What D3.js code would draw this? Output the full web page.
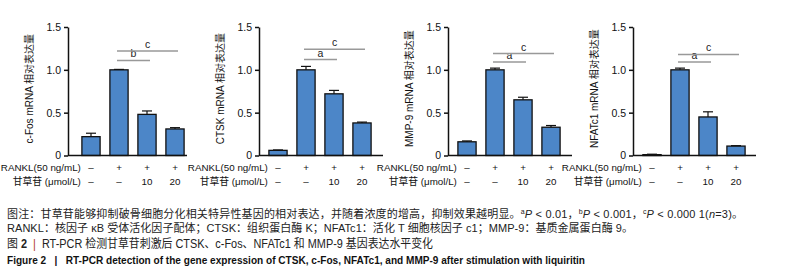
<!DOCTYPE html>
<html lang="zh">
<head>
<meta charset="UTF-8">
<title>RT-PCR liquiritin</title>
<script src="https://d3js.org/d3.v7.min.js"></script>
<style>
  body { margin: 0; background: #fff; }
  text { font-family: "Liberation Sans", "Noto Sans CJK SC", sans-serif; white-space: pre; }
</style>
</head>
<body>
<svg id="chart" width="793" height="277"></svg>
<script>
const genes = ["c-Fos", "CTSK", "MMP-9", "NFATc1"];
const groups = ["ctrl", "rankl", "liq10", "liq20"];
const ranklRow = ["–", "+", "+", "+"];
const liqRow = ["–", "–", "10", "20"];
const means = [
  [0.22, 1.00, 0.48, 0.31],
  [0.06, 1.00, 0.72, 0.38],
  [0.16, 1.00, 0.65, 0.33],
  [0.01, 1.00, 0.45, 0.11]
];
const errs = [
  [0.04, 0.005, 0.04, 0.015],
  [0.005, 0.04, 0.04, 0.01],
  [0.01, 0.02, 0.03, 0.02],
  [0.005, 0.02, 0.06, 0.005]
];
// significance letters: [vs 10, vs 20]
const sigLetters = [["b", "c"], ["a", "c"], ["a", "c"], ["a", "c"]];
const sigLevels = [[1.11, 1.22], [1.12, 1.24], [1.09, 1.19], [1.09, 1.18]];
const yTicks = [0, 0.5, 1.0, 1.5];
const yTickLabels = ["0", "0.5", "1.0", "1.5"];

const svg = d3.select("#chart");
const axisX = [68, 259, 448, 633];
const axisEnd = [187, 383, 572, 756];
const bandStart = [77, 264, 453, 638];
const barColor = "#4c86c8";

const y = d3.scaleLinear().domain([0, 1.5]).range([155.5, 27]);

genes.forEach((gene, i) => {
  const g = svg.append("g");
  const x = d3.scaleBand()
    .domain(groups)
    .range([bandStart[i], bandStart[i] + 112])
    .paddingInner(0.35)
    .paddingOuter(0.175);
  const bw = x.bandwidth();

  // bars
  g.selectAll("rect.bar")
    .data(means[i])
    .enter().append("rect")
      .attr("class", "bar")
      .attr("x", (d, j) => x(groups[j]))
      .attr("y", d => y(d))
      .attr("width", bw)
      .attr("height", d => y(0) - y(d))
      .attr("fill", barColor)
      .attr("stroke", "#111")
      .attr("stroke-width", 1.3);

  // error bars
  const eb = g.selectAll("g.err")
    .data(means[i].map((m, j) => ({m, e: errs[i][j], k: groups[j]})))
    .enter().append("g").attr("class", "err");
  eb.append("line")
    .attr("x1", d => x(d.k) + bw / 2).attr("x2", d => x(d.k) + bw / 2)
    .attr("y1", d => y(d.m)).attr("y2", d => y(d.m + d.e))
    .attr("stroke", "#111").attr("stroke-width", 1.2);
  eb.append("line")
    .attr("x1", d => x(d.k) + bw / 2 - 5).attr("x2", d => x(d.k) + bw / 2 + 5)
    .attr("y1", d => y(d.m + d.e)).attr("y2", d => y(d.m + d.e))
    .attr("stroke", "#111").attr("stroke-width", 1.2);

  // y axis
  const ya = g.append("g")
    .attr("transform", `translate(${axisX[i]},0)`)
    .call(d3.axisLeft(y).tickValues(yTicks).tickFormat((d, k) => yTickLabels[k]).tickSize(4).tickSizeOuter(0));
  ya.select(".domain").attr("stroke", "#111").attr("stroke-width", 1.5);
  ya.selectAll(".tick line").attr("stroke", "#111").attr("stroke-width", 1.5);
  ya.selectAll(".tick text").attr("font-size", 10.5).attr("fill", "#111")
    .attr("font-family", "Liberation Sans, sans-serif");

  // x axis line
  g.append("line")
    .attr("x1", axisX[i]).attr("x2", axisEnd[i])
    .attr("y1", y(0)).attr("y2", y(0))
    .attr("stroke", "#111").attr("stroke-width", 1.5);

  // y label
  g.append("text")
    .attr("transform", `translate(${axisX[i] - 35},${y(0.78)}) rotate(-90)`)
    .attr("text-anchor", "middle")
    .attr("font-size", 10)
    .attr("fill", "#111")
    .text(`${gene} mRNA 相对表达量`);

  // significance brackets
  const cx = k => x(groups[k]) + bw / 2;
  [2, 3].forEach((k, s) => {
    const x1 = cx(1) - 2, x2 = cx(k) + 3;
    const yy = y(sigLevels[i][s]);
    g.append("line")
      .attr("x1", x1).attr("x2", x2).attr("y1", yy).attr("y2", yy)
      .attr("stroke", "#999").attr("stroke-width", 1.5);
    g.append("text")
      .attr("x", (x1 + x2) / 2).attr("y", yy - 3)
      .attr("text-anchor", "middle")
      .attr("font-size", 10.5).attr("fill", "#222")
      .text(sigLetters[i][s]);
  });

  // condition rows
  const rowY = [170.5, 185];
  const rowLabels = ["RANKL(50 ng/mL)", "甘草苷 (μmol/L)"];
  [ranklRow, liqRow].forEach((row, r) => {
    g.append("text")
      .attr("x", x(groups[0]) - 1).attr("y", rowY[r])
      .attr("text-anchor", "end")
      .attr("font-size", 9.8).attr("fill", "#111")
      .text(rowLabels[r]);
    g.selectAll(null)
      .data(row)
      .enter().append("text")
        .attr("x", (d, j) => x(groups[j]) + bw / 2)
        .attr("y", rowY[r])
        .attr("text-anchor", "middle")
        .attr("font-size", 9.8).attr("fill", "#111")
        .text(d => d);
  });
});

// caption
const cap = svg.append("g").attr("fill", "#222");
const l1 = cap.append("text").attr("x", 7).attr("y", 218).attr("font-size", 11)
  .attr("textLength", 736).attr("lengthAdjust", "spacing");
l1.append("tspan").text("图注：甘草苷能够抑制破骨细胞分化相关特异性基因的相对表达，并随着浓度的增高，抑制效果越明显。");
[["a", "P", " < 0.01，"], ["b", "P", " < 0.001，"], ["c", "P", " < 0.000 1("]].forEach(p => {
  l1.append("tspan").attr("font-size", 7).attr("dy", -4).text(p[0]);
  l1.append("tspan").attr("font-style", "italic").attr("dy", 4).text(p[1]);
  l1.append("tspan").text(p[2]);
});
l1.append("tspan").attr("font-style", "italic").text("n");
l1.append("tspan").text("=3)。");

cap.append("text").attr("x", 7).attr("y", 232).attr("font-size", 11)
  .attr("textLength", 626).attr("lengthAdjust", "spacing")
  .text("RANKL：核因子 κB 受体活化因子配体；CTSK：组织蛋白酶 K；NFATc1：活化 T 细胞核因子 c1；MMP-9：基质金属蛋白酶 9。");

const l3 = cap.append("text").attr("x", 7).attr("y", 248).attr("font-size", 12)
  .attr("textLength", 426).attr("lengthAdjust", "spacingAndGlyphs");
l3.append("tspan").text("图 ");
l3.append("tspan").attr("font-weight", "bold").text("2  ");
l3.append("tspan").attr("fill", "#b03a2e").text("|  ");
l3.append("tspan").text("RT-PCR 检测甘草苷刺激后 CTSK、c-Fos、NFATc1 和 MMP-9 基因表达水平变化");

cap.append("text").attr("x", 7).attr("y", 264).attr("font-size", 11)
  .attr("font-weight", "bold").attr("fill", "#111")
  .attr("textLength", 578).attr("lengthAdjust", "spacingAndGlyphs")
  .text("Figure 2   |   RT-PCR detection of the gene expression of CTSK, c-Fos, NFATc1, and MMP-9 after stimulation with liquiritin");
</script>
</body>
</html>
